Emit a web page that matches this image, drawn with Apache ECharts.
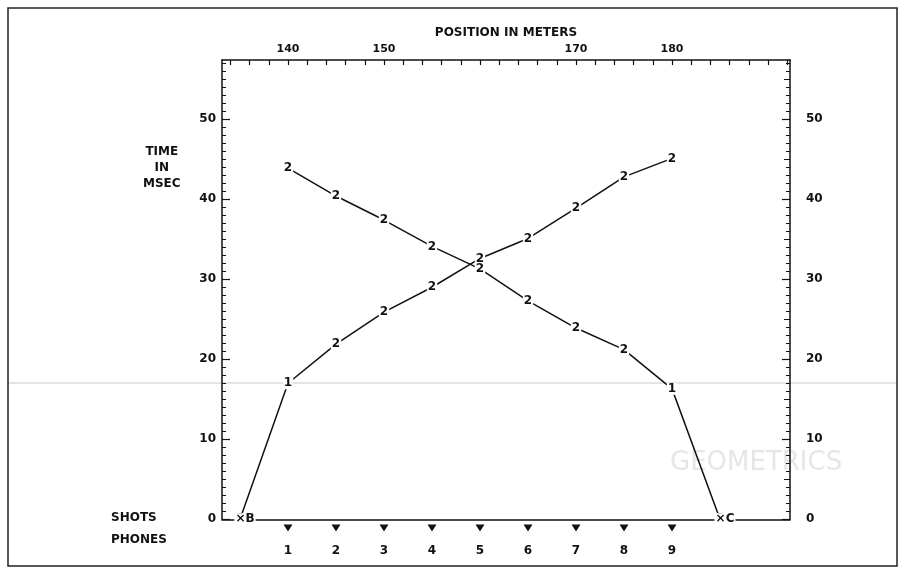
<!DOCTYPE html>
<html>
<head>
<meta charset="utf-8">
<script src="https://cdn.jsdelivr.net/npm/echarts@6/dist/echarts.min.js"></script>
<style>
  html, body { margin: 0; padding: 0; background: #fff; }
  #chart { width: 905px; height: 576px; }
</style>
</head>
<body>
<div id="chart"></div>
<script>
// positions in meters, times in msec
const shotB = [135, 0]
const shotC = [185, 0]
const phonePositions = [140, 145, 150, 155, 160, 165, 170, 175, 180]
const phoneNumbers = ['1', '2', '3', '4', '5', '6', '7', '8', '9']

// first arrivals from shot B (left) and shot C (right), one per phone
const timesFromB = [17.0, 21.9, 25.9, 29.0, 32.6, 35.1, 38.9, 42.8, 45.1]
const timesFromC = [43.9, 40.4, 37.4, 34.1, 31.3, 27.3, 23.9, 21.2, 16.3]
const layerFromB = ['1', '2', '2', '2', '2', '2', '2', '2', '2']
const layerFromC = ['2', '2', '2', '2', '2', '2', '2', '2', '1']

const xTicks = [134, 136, 138, 140, 142, 144, 146, 148, 150, 152, 154, 156, 158, 160, 162,
  164, 166, 168, 170, 172, 174, 176, 178, 180, 182, 184, 186, 188, 190, 192]
const xLabels = [140, 150, 170, 180]
const yLabels = [0, 10, 20, 30, 40, 50]
const yMidTicks = [5, 15, 25, 35, 45, 55]
const yMinorTicks = Array.from({ length: 58 }, (_, i) => i)

const ink = '#111'
const font = 'DejaVu Sans'

const lineB = [shotB].concat(phonePositions.map((x, i) => ({
  value: [x, timesFromB[i]],
  label: { formatter: layerFromB[i] }
})))
const lineC = phonePositions.map((x, i) => ({
  value: [x, timesFromC[i]],
  label: { formatter: layerFromC[i] }
})).concat([shotC])

const chart = echarts.init(document.getElementById('chart'))

const hiddenAxis = {
  axisLine: { show: false },
  axisTick: { show: false },
  axisLabel: { show: false },
  splitLine: { show: false }
}

const yBase = { type: 'value', gridIndex: 0, min: 0, max: 57.4, splitLine: { show: false } }

const labelStyle = {
  show: true,
  position: 'inside',
  color: ink,
  fontFamily: font,
  fontWeight: 'bold',
  fontSize: 12,
  backgroundColor: '#fff',
  padding: [0, 1]
}

chart.setOption({
  animation: false,
  backgroundColor: '#fff',
  textStyle: { fontFamily: font, color: ink },
  grid: [
    { left: 222, top: 60, width: 568, height: 459.3 },
    { left: 222, top: 520, width: 568, height: 40 }
  ],
  xAxis: [
    {
      type: 'value', gridIndex: 0, position: 'top',
      min: 133.125, max: 192.29,
      name: 'POSITION IN METERS', nameLocation: 'middle', nameGap: 21,
      nameTextStyle: { color: ink, fontWeight: 'bold', fontSize: 12, fontFamily: font },
      axisLine: { onZero: false, lineStyle: { color: ink, width: 1.5 } },
      axisTick: { inside: true, length: 5, customValues: xTicks, lineStyle: { color: ink, width: 1.2 } },
      axisLabel: { customValues: xLabels, margin: 5, color: ink, fontWeight: 'bold', fontSize: 11 },
      splitLine: { show: false }
    },
    {
      type: 'value', gridIndex: 0, position: 'bottom',
      min: 133.125, max: 192.29,
      axisLine: { onZero: false, lineStyle: { color: ink, width: 1.5 } },
      axisTick: { show: false }, axisLabel: { show: false }, splitLine: { show: false }
    },
    Object.assign({ type: 'value', gridIndex: 1, min: 133.125, max: 192.29 }, hiddenAxis)
  ],
  yAxis: [
    Object.assign({}, yBase, {
      position: 'left',
      axisLine: { onZero: false, lineStyle: { color: ink, width: 1.5 } },
      axisTick: { inside: true, length: 8, customValues: yLabels, lineStyle: { color: ink, width: 1.2 } },
      axisLabel: { customValues: yLabels, margin: 6, color: ink, fontWeight: 'bold', fontSize: 12 }
    }),
    Object.assign({}, yBase, {
      position: 'left',
      axisLine: { show: false, onZero: false },
      axisTick: { inside: true, length: 4, customValues: yMinorTicks, lineStyle: { color: ink, width: 1 } },
      axisLabel: { show: false }
    }),
    Object.assign({}, yBase, {
      position: 'right',
      axisLine: { onZero: false, lineStyle: { color: ink, width: 1.5 } },
      axisTick: { inside: true, length: 8, customValues: yLabels, lineStyle: { color: ink, width: 1.2 } },
      axisLabel: { customValues: yLabels, margin: 16, color: ink, fontWeight: 'bold', fontSize: 12 }
    }),
    Object.assign({}, yBase, {
      position: 'right',
      axisLine: { show: false, onZero: false },
      axisTick: { inside: true, length: 6, customValues: yMidTicks, lineStyle: { color: ink, width: 1 } },
      axisLabel: { show: false }
    }),
    Object.assign({}, yBase, {
      position: 'right',
      axisLine: { show: false, onZero: false },
      axisTick: { inside: true, length: 4, customValues: yMinorTicks, lineStyle: { color: ink, width: 1 } },
      axisLabel: { show: false }
    }),
    Object.assign({ type: 'value', gridIndex: 1, min: 0, max: 1 }, hiddenAxis)
  ],
  series: [
    {
      name: 'shot B', type: 'line', xAxisIndex: 0, yAxisIndex: 0,
      data: lineB,
      symbol: 'circle', symbolSize: 1,
      itemStyle: { color: ink },
      lineStyle: { color: ink, width: 1.5 },
      label: labelStyle,
      z: 3
    },
    {
      name: 'shot C', type: 'line', xAxisIndex: 0, yAxisIndex: 0,
      data: lineC,
      symbol: 'circle', symbolSize: 1,
      itemStyle: { color: ink },
      lineStyle: { color: ink, width: 1.5 },
      label: labelStyle,
      z: 3
    },
    {
      name: 'shots', type: 'scatter', xAxisIndex: 0, yAxisIndex: 0,
      data: [
        { value: shotB, label: { formatter: '×B' } },
        { value: shotC, label: { formatter: '×C' } }
      ],
      symbolSize: 0,
      clip: false,
      itemStyle: { color: ink, opacity: 1 },
      label: {
        show: true, position: 'inside', offset: [5, 0],
        color: ink, fontFamily: font, fontWeight: 'bold', fontSize: 12,
        backgroundColor: '#fff', padding: [0, 1]
      },
      z: 4
    },
    {
      name: 'phones', type: 'scatter', xAxisIndex: 2, yAxisIndex: 5,
      data: phonePositions.map((x, i) => ({ value: [x, 0.8], label: { formatter: phoneNumbers[i] } })),
      symbol: 'triangle', symbolRotate: 180, symbolSize: [9, 7],
      itemStyle: { color: ink, opacity: 1 },
      label: {
        show: true, position: 'bottom', distance: 13,
        color: ink, fontFamily: font, fontWeight: 'bold', fontSize: 12
      }
    }
  ],
  graphic: [
    { type: 'rect', shape: { x: 8, y: 8, width: 889, height: 558 },
      style: { fill: 'none', stroke: '#222', lineWidth: 1.5 } },
    { type: 'line', shape: { x1: 8, y1: 383, x2: 897, y2: 383 },
      style: { stroke: '#e4e4e4', lineWidth: 2 }, z: -1 },
    { type: 'text', left: 670, top: 450,
      style: { text: 'GEOMETRICS', fill: '#e6e6e6', font: '26px "DejaVu Sans"' }, z: -1 },
    { type: 'text', left: 143, top: 144,
      style: { text: 'TIME\nIN\nMSEC', textAlign: 'center', fill: ink,
        font: 'bold 12px "DejaVu Sans"', lineHeight: 16 } },
    { type: 'text', left: 111, top: 512,
      style: { text: 'SHOTS', fill: ink, font: 'bold 12px "DejaVu Sans"' } },
    { type: 'text', left: 111, top: 534,
      style: { text: 'PHONES', fill: ink, font: 'bold 12px "DejaVu Sans"' } }
  ]
})
</script>
</body>
</html>
